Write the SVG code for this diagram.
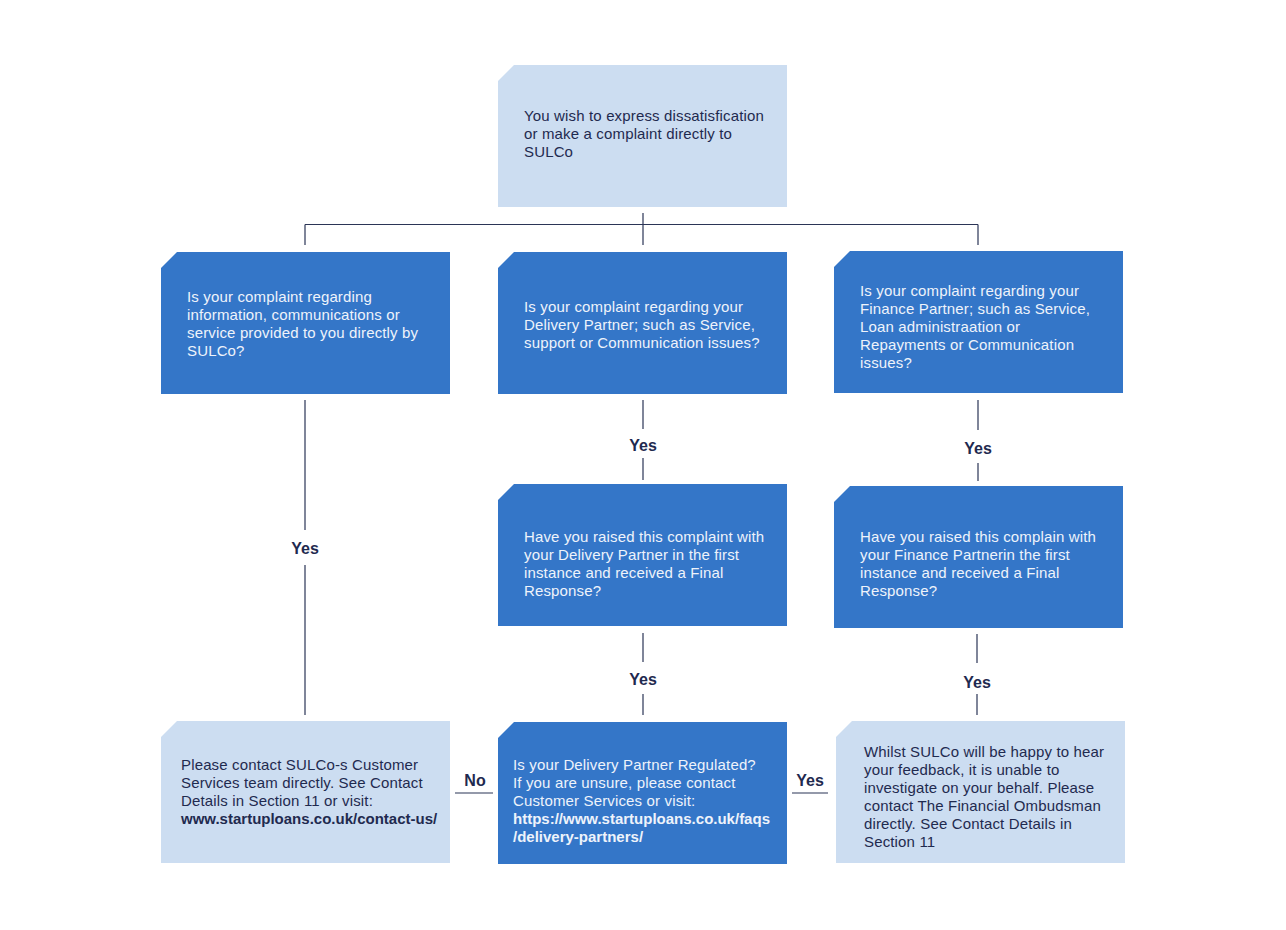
<svg xmlns="http://www.w3.org/2000/svg" width="1286" height="930" viewBox="0 0 1286 930">
<style>
.light{fill:#CCDDF1}
.dark{fill:#3476C8}
.t{font-family:"Liberation Sans",Arial,sans-serif;font-size:15px;letter-spacing:0.15px}
.tl{fill:#1F2A4F}
.td{fill:#EEF3FB}
.b{font-weight:bold;letter-spacing:0}
.lbl{font-family:"Liberation Sans",Arial,sans-serif;font-size:16px;font-weight:bold;fill:#1F2A4F;text-anchor:middle}
.ln{stroke:#2B3556;stroke-width:1.2;fill:none}
</style>
<defs>
<path id="shape" d="M16,0 H289 V142 H0 V16 Z"/>
</defs>
<rect width="1286" height="930" fill="#FFFFFF"/>
<g id="connectors">
<path class="ln" d="M643,213 V245 M305,224.5 H978 M305,224.5 V245 M978,224.5 V245"/>
<path class="ln" d="M305,400 V530 M305,565 V715"/>
<path class="ln" d="M643,400 V429 M643,458 V480"/>
<path class="ln" d="M643,633 V662 M643,694 V715"/>
<path class="ln" d="M978,400 V430 M978,463 V481"/>
<path class="ln" d="M977,634 V663 M977,694 V715"/>
<path class="ln" d="M455,793 H493 M792,793 H828"/>
<text class="lbl" x="305" y="554">Yes</text>
<text class="lbl" x="643" y="451">Yes</text>
<text class="lbl" x="643" y="685">Yes</text>
<text class="lbl" x="978" y="454">Yes</text>
<text class="lbl" x="977" y="688">Yes</text>
<text class="lbl" x="475" y="786">No</text>
<text class="lbl" x="810" y="786">Yes</text>
</g>
<g id="n-start">
<use href="#shape" class="light" x="498" y="65"/>
<text class="t tl" x="524" y="121">You wish to express dissatisfication</text>
<text class="t tl" x="524" y="139">or make a complaint directly to</text>
<text class="t tl" x="524" y="157">SULCo</text>
</g>
<g id="n-q-sulco">
<use href="#shape" class="dark" x="161" y="252"/>
<text class="t td" x="187" y="302">Is your complaint regarding</text>
<text class="t td" x="187" y="320">information, communications or</text>
<text class="t td" x="187" y="338">service provided to you directly by</text>
<text class="t td" x="187" y="356">SULCo?</text>
</g>
<g id="n-q-delivery">
<use href="#shape" class="dark" x="498" y="252"/>
<text class="t td" x="524" y="312">Is your complaint regarding your</text>
<text class="t td" x="524" y="330">Delivery Partner; such as Service,</text>
<text class="t td" x="524" y="348">support or Communication issues?</text>
</g>
<g id="n-q-finance">
<use href="#shape" class="dark" x="834" y="251"/>
<text class="t td" x="860" y="296">Is your complaint regarding your</text>
<text class="t td" x="860" y="314">Finance Partner; such as Service,</text>
<text class="t td" x="860" y="332">Loan administraation or</text>
<text class="t td" x="860" y="350">Repayments or Communication</text>
<text class="t td" x="860" y="368">issues?</text>
</g>
<g id="n-raised-delivery">
<use href="#shape" class="dark" x="498" y="484"/>
<text class="t td" x="524" y="542">Have you raised this complaint with</text>
<text class="t td" x="524" y="560">your Delivery Partner in the first</text>
<text class="t td" x="524" y="578">instance and received a Final</text>
<text class="t td" x="524" y="596">Response?</text>
</g>
<g id="n-raised-finance">
<use href="#shape" class="dark" x="834" y="486"/>
<text class="t td" x="860" y="542">Have you raised this complain with</text>
<text class="t td" x="860" y="560">your Finance Partnerin the first</text>
<text class="t td" x="860" y="578">instance and received a Final</text>
<text class="t td" x="860" y="596">Response?</text>
</g>
<g id="n-contact">
<use href="#shape" class="light" x="161" y="721"/>
<text class="t tl" x="181" y="770">Please contact SULCo-s Customer</text>
<text class="t tl" x="181" y="788">Services team directly. See Contact</text>
<text class="t tl" x="181" y="806">Details in Section 11 or visit:</text>
<text class="t tl b" x="181" y="824">www.startuploans.co.uk/contact-us/</text>
</g>
<g id="n-regulated">
<use href="#shape" class="dark" x="498" y="722"/>
<text class="t td" x="513" y="770">Is your Delivery Partner Regulated?</text>
<text class="t td" x="513" y="788">If you are unsure, please contact</text>
<text class="t td" x="513" y="806">Customer Services or visit:</text>
<text class="t td b" x="513" y="824">https://www.startuploans.co.uk/faqs</text>
<text class="t td b" x="513" y="842">/delivery-partners/</text>
</g>
<g id="n-ombudsman">
<use href="#shape" class="light" x="836" y="721"/>
<text class="t tl" x="864" y="757">Whilst SULCo will be happy to hear</text>
<text class="t tl" x="864" y="775">your feedback, it is unable to</text>
<text class="t tl" x="864" y="793">investigate on your behalf. Please</text>
<text class="t tl" x="864" y="811">contact The Financial Ombudsman</text>
<text class="t tl" x="864" y="829">directly. See Contact Details in</text>
<text class="t tl" x="864" y="847">Section 11</text>
</g>
</svg>
